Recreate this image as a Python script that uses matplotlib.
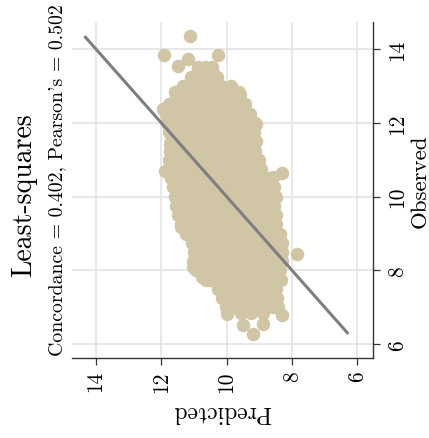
import numpy as np
import matplotlib
matplotlib.use("Agg")
import matplotlib.pyplot as plt

plt.rcParams['font.family'] = ['cmr10', 'DejaVu Serif']
plt.rcParams['axes.formatter.use_mathtext'] = True

# Observed levels (rows of the cloud) and predicted values at each level
obs_levels = [13.5, 13.25, 13.0, 12.75, 12.5, 12.25, 12.0, 11.75, 11.5, 11.25,
              11.0, 10.75, 10.5, 10.25, 10.0, 9.75, 9.5, 9.25, 9.0, 8.75,
              8.5, 8.25, 8.0, 7.75, 7.5, 7.25, 7.0]
pred_by_level = [
    [10.88, 10.66, 10.45],
    [11.09, 10.95, 10.68, 10.42, 10.30],
    [11.34, 11.05, 10.76, 10.47, 10.18, 9.88],
    [11.55, 11.41, 11.13, 10.84, 10.55, 10.26, 9.98, 9.70, 9.58],
    [11.76, 11.48, 11.20, 10.92, 10.63, 10.35, 10.06, 9.78, 9.45],
    [11.86, 11.72, 11.43, 11.14, 10.85, 10.56, 10.27, 9.98, 9.69, 9.41, 9.28],
    [11.83, 11.55, 11.26, 10.97, 10.68, 10.40, 10.11, 9.82, 9.53, 9.24, 9.12],
    [11.76, 11.61, 11.32, 11.04, 10.75, 10.46, 10.17, 9.88, 9.59, 9.30, 9.16],
    [11.70, 11.41, 11.12, 10.83, 10.54, 10.25, 9.96, 9.67, 9.38, 9.09],
    [11.73, 11.58, 11.29, 11.00, 10.71, 10.42, 10.13, 9.84, 9.55, 9.26, 9.12],
    [11.76, 11.47, 11.18, 10.89, 10.60, 10.31, 10.02, 9.73, 9.44, 9.15, 9.02],
    [11.79, 11.64, 11.35, 11.06, 10.77, 10.48, 10.19, 9.90, 9.61, 9.32, 9.05, 8.96],
    [11.70, 11.41, 11.12, 10.83, 10.54, 10.25, 9.96, 9.67, 9.38, 9.09, 8.80, 8.74],
    [11.64, 11.49, 11.20, 10.91, 10.62, 10.33, 10.04, 9.75, 9.46, 9.17, 8.88, 8.62, 8.56],
    [11.58, 11.29, 11.00, 10.71, 10.42, 10.13, 9.84, 9.55, 9.26, 8.97, 8.68, 8.50],
    [11.55, 11.40, 11.11, 10.82, 10.53, 10.24, 9.95, 9.66, 9.37, 9.08, 8.79, 8.55],
    [11.49, 11.20, 10.91, 10.62, 10.33, 10.04, 9.75, 9.46, 9.17, 8.88, 8.59, 8.50],
    [11.40, 11.25, 10.96, 10.67, 10.38, 10.09, 9.80, 9.51, 9.22, 8.93, 8.64, 8.50],
    [11.24, 10.95, 10.66, 10.37, 10.08, 9.79, 9.50, 9.21, 8.92, 8.63, 8.38],
    [11.06, 10.91, 10.62, 10.33, 10.04, 9.75, 9.46, 9.17, 8.88, 8.59, 8.32],
    [11.00, 10.71, 10.42, 10.13, 9.84, 9.55, 9.26, 8.97, 8.68, 8.40, 8.31],
    [11.03, 10.88, 10.59, 10.30, 10.01, 9.72, 9.43, 9.14, 8.85, 8.56, 8.32],
    [10.94, 10.65, 10.36, 10.07, 9.78, 9.49, 9.20, 8.91, 8.62, 8.36],
    [10.63, 10.48, 10.19, 9.90, 9.61, 9.32, 9.03, 8.74, 8.46, 8.35],
    [10.27, 9.98, 9.69, 9.40, 9.11, 8.82, 8.50],
    [10.14, 9.99, 9.70, 9.41, 9.12, 8.83, 8.56, 8.47],
    [10.02, 9.73, 9.44, 9.15, 8.86, 8.57, 8.42],
]

# Scattered points around the edges of the cloud
extra_pred = [11.12, 11.92, 11.48, 11.17, 10.26, 10.87, 10.46, 11.94, 11.58,
              11.89, 11.73, 11.41, 11.04, 10.76, 8.57, 8.32, 7.86, 9.61, 9.10,
              9.51, 9.19, 8.88, 9.98, 9.55, 9.25, 8.90, 8.32, 8.62]
extra_obs = [14.35, 13.84, 13.55, 13.73, 13.84, 13.46, 13.41, 12.38, 12.83,
             10.70, 11.43, 9.17, 8.09, 7.83, 10.53, 10.64, 8.45, 12.83, 11.97,
             6.53, 6.28, 6.55, 6.82, 6.85, 6.85, 6.85, 6.79, 7.05]

x_ticks = [14, 12, 10, 8, 6]
y_ticks = [6, 8, 10, 12, 14]
title = "Least-squares"
subtitle = "Concordance = 0.402, Pearson's = 0.502"
x_label = "Predicted"
y_label = "Observed"

predicted = [p for row in pred_by_level for p in row] + extra_pred
observed = [o for o, row in zip(obs_levels, pred_by_level) for _ in row] + extra_obs
predicted = np.array(predicted)
observed = np.array(observed)

W, H = 429, 439
fig = plt.figure(figsize=(W / 100, H / 100), dpi=100)
ax = fig.add_axes([71.7 / W, 1 - 359.3 / H, (372.7 - 71.7) / W, (359.3 - 22.7) / H])

ax.set_xlim(14.74, 5.535)
ax.set_ylim(5.62, 14.74)

ax.grid(True, color='#e2e2e2', linewidth=1.1, zorder=0)
ax.set_axisbelow(True)

ax.scatter(predicted, observed, s=94, color='#d0c5a5', linewidths=0, zorder=2)
lo, hi = observed.min(), observed.max()
ax.plot([lo, hi], [lo, hi], color='#7f7f7f', linewidth=2.2, zorder=3,
        solid_capstyle='butt')

for s in ['left', 'top']:
    ax.spines[s].set_visible(False)
for s in ['bottom', 'right']:
    ax.spines[s].set_color('#333333')
    ax.spines[s].set_linewidth(1.0)

ax.yaxis.tick_right()
ax.set_xticks(x_ticks)
ax.set_xticklabels([str(t) for t in x_ticks], rotation=90, fontsize=15.5)
ax.set_yticks(y_ticks)
ax.set_yticklabels([str(t) for t in y_ticks], rotation=90, fontsize=15.5,
                   va='center')
ax.tick_params(axis='both', length=5, width=0.9, color='#333333')
ax.tick_params(axis='x', pad=3.5)
ax.tick_params(axis='y', pad=5.5)

fig.text(24 / W, 1 - 194.7 / H, title, rotation=90, fontsize=20,
         ha='center', va='center')
fig.text(57 / W, 1 - 180.5 / H, subtitle, rotation=90, fontsize=14.3,
         ha='center', va='center')
fig.text(420 / W, 1 - 181.7 / H, y_label, rotation=90, fontsize=16.5,
         ha='center', va='center')
fig.text(222 / W, 1 - 411.7 / H, x_label, rotation=180, fontsize=17,
         ha='center', va='center')

fig.savefig("out.png", dpi=100)
